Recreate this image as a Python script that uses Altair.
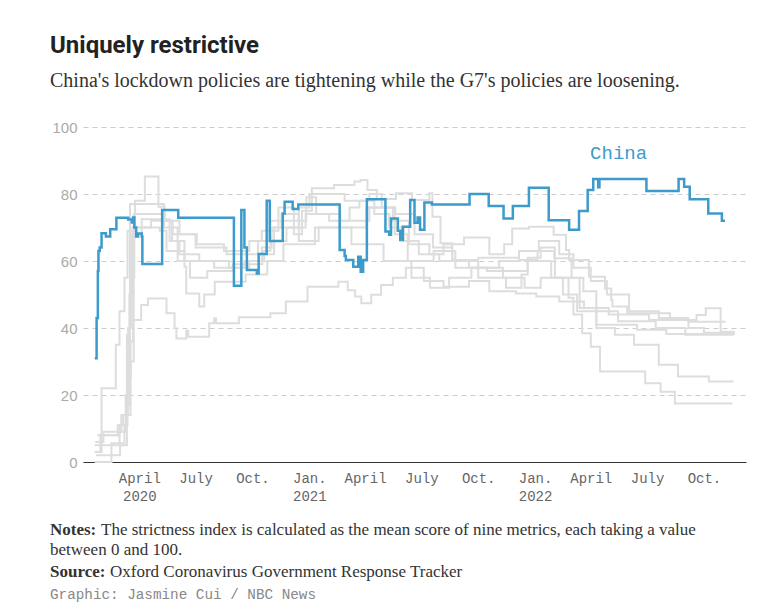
import altair as alt
import pandas as pd

# ---------------- data ----------------
china_dates = ["2020-01-20","2020-01-23","2020-01-25","2020-01-26","2020-01-28","2020-01-31","2020-02-07",
    "2020-02-14","2020-02-24","2020-03-14","2020-03-20","2020-03-22","2020-03-24","2020-03-27","2020-03-30",
    "2020-04-05","2020-04-06","2020-05-08","2020-06-03","2020-09-01","2020-09-13","2020-09-18","2020-09-22",
    "2020-10-08","2020-10-11","2020-10-24","2020-10-29","2020-11-19","2020-11-22","2020-12-05","2020-12-14",
    "2021-02-19","2021-02-27","2021-03-01","2021-03-13","2021-03-21","2021-03-25","2021-03-29","2021-04-04",
    "2021-05-04","2021-05-10","2021-05-13","2021-05-24","2021-05-28","2021-06-01","2021-06-13","2021-06-20",
    "2021-06-25","2021-06-29","2021-07-06","2021-07-18","2021-09-17","2021-10-18","2021-11-11","2021-11-26",
    "2021-12-22","2022-01-23","2022-02-25","2022-03-13","2022-03-27","2022-04-05","2022-04-13","2022-04-15",
    "2022-06-30","2022-08-21","2022-08-30","2022-09-08","2022-10-08","2022-10-30","2022-11-04"]
china_values = [31,43,57,63,64,68.3,67.3,
    69.5,72.9,72.4,71.5,73,70,67.3,68.2,
    67.3,59.1,75.2,72.9,52.6,75.2,64,57.3,
    56.3,62.1,78,66,74.2,77.7,75.5,76.9,
    63.3,61.5,60.3,58.3,61.3,56.8,60.3,78.4,
    68.8,67.8,72.7,69,66.3,70.2,78.2,71.4,
    73,69.3,77.5,76.9,80,76.4,72.7,76.4,
    81.9,72.2,69.3,74.9,81.2,84.5,82,84.5,
    80.9,84.5,82.2,78.4,74.2,72,72]

uk_dates = ["2020-01-20","2020-02-16","2020-03-08","2020-03-13","2020-03-18","2020-03-23","2020-05-12",
    "2020-06-05","2020-07-03","2020-08-16","2020-09-26","2020-10-16","2020-11-12","2020-12-07","2020-12-20",
    "2021-01-05","2021-02-10","2021-03-15","2021-03-25","2021-04-05","2021-04-20","2021-05-21","2021-06-16",
    "2021-07-14","2021-07-19","2021-08-01","2021-08-20","2021-10-01","2021-11-15","2021-12-10","2021-12-20",
    "2022-01-27","2022-02-24","2022-03-04","2022-03-18","2022-04-01","2022-04-16","2022-06-28","2022-07-23",
    "2022-08-15","2022-11-16"]
uk_values = [0,5.6,11,14,30,74,72,
    68,65,63,66,69,76,68,75,
    81.7,82.7,83.7,84.2,81.2,78.5,80.2,78.2,
    80.2,73.2,65.3,60,55,52,56,60,
    55,49,44,38.4,34.4,27,23.5,21,
    17.5,17.5]

de_dates = ["2020-01-20","2020-02-29","2020-03-10","2020-03-16","2020-03-21","2020-05-04","2020-05-15",
    "2020-06-13","2020-07-31","2020-09-18","2020-10-20","2020-11-05","2020-12-15","2021-01-01","2021-02-27",
    "2021-04-08","2021-04-28","2021-05-16","2021-06-11","2021-07-14","2021-08-06","2021-09-08","2021-10-19",
    "2021-11-12","2021-11-25","2021-12-22","2022-01-31","2022-02-20","2022-02-25","2022-03-29","2022-04-24",
    "2022-05-04","2022-05-06","2022-05-30","2022-08-07","2022-09-19","2022-10-04","2022-10-28","2022-11-20"]
de_values = [5,9,20,50,70,69,63,
    60,58,60,62,70,76,80,78,
    80,76,72,65,62,65,67,62,
    65,69.7,70.2,67.8,63.3,60.3,55.3,51.8,
    48.4,46.4,44.4,42.4,43.9,45.9,38.9,38.9]

it_dates = ["2020-01-20","2020-01-31","2020-02-23","2020-02-29","2020-03-08","2020-03-13","2020-03-25",
    "2020-04-10","2020-05-02","2020-05-12","2020-05-24","2020-06-05","2020-07-07","2020-08-24","2020-09-26",
    "2020-10-16","2020-11-01","2020-11-17","2020-12-15","2020-12-27","2021-01-12","2021-02-02","2021-03-07",
    "2021-03-23","2021-04-16","2021-05-10","2021-06-03","2021-06-27","2021-07-30","2021-09-16","2021-11-04",
    "2021-12-06","2022-01-07","2022-02-09","2022-03-04","2022-04-01","2022-04-27","2022-06-02","2022-07-20",
    "2022-09-06","2022-10-01","2022-11-20"]
it_values = [3,22,35,45,55,69,78,
    85.2,76.2,72,66,62,60,58,60,
    64,70,74,72,79,74,72,76,
    78,74,70,66,62,60,58,60,
    63,66,62,58,54,50,45,43,
    40,38.6,38.6]

fr_dates = ["2020-01-24","2020-02-29","2020-03-12","2020-03-17","2020-05-11","2020-06-02","2020-06-22",
    "2020-07-20","2020-08-30","2020-10-17","2020-10-30","2020-12-15","2021-01-16","2021-04-03","2021-05-19",
    "2021-06-09","2021-07-21","2021-08-25","2021-10-15","2021-12-20","2022-01-10","2022-02-02","2022-03-14",
    "2022-04-10","2022-06-15","2022-08-01","2022-11-20"]
fr_values = [8,11,38,77,70,60,55,
    57,59,63,72,66,70,76,68,
    60,63,58,57,61,64,55,46,
    41,39.5,38.2,38.2]

us_dates = ["2020-01-21","2020-02-03","2020-03-03","2020-03-14","2020-03-20","2020-04-05","2020-05-20",
    "2020-06-13","2020-06-16","2020-07-07","2020-07-15","2020-08-01","2020-09-20","2020-10-25","2020-11-20",
    "2021-01-10","2021-03-10","2021-05-01","2021-06-15","2021-07-15","2021-08-15","2021-09-20","2021-11-10",
    "2021-12-15","2022-01-10","2022-02-15","2022-03-10","2022-04-10","2022-05-10","2022-06-10","2022-07-20",
    "2022-08-20","2022-10-09","2022-11-18"]
us_values = [6,9,14,40,68,72.5,66,
    58.3,50.3,46.4,50,53.8,56,60,65,
    70,65,60,55,52,55,58,55,
    52,55,50,45,40,38,35,29,
    25.5,24,24]

ca_dates = ["2020-01-22","2020-03-01","2020-03-12","2020-03-17","2020-03-24","2020-04-20","2020-05-25",
    "2020-07-01","2020-08-20","2020-10-10","2020-11-25","2020-12-26","2021-02-20","2021-04-08","2021-05-20",
    "2021-06-20","2021-07-20","2021-08-20","2021-10-01","2021-12-06","2022-01-05","2022-02-01","2022-03-01",
    "2022-03-20","2022-04-10","2022-05-15","2022-07-15","2022-09-01","2022-11-18"]
ca_values = [2,5,17,55,70,72,68,
    64,62,66,70,74,72,76,74,
    68,64,60.3,61,60.3,63,60.8,55,
    51,45,42,40,38,37.9]

jp_dates = ["2020-01-20","2020-01-29","2020-02-26","2020-03-06","2020-03-13","2020-03-18","2020-03-22",
    "2020-04-04","2020-04-15","2020-05-15","2020-05-28","2020-05-31","2020-06-16","2020-06-19","2020-07-23",
    "2020-07-31","2020-08-03","2020-09-09","2020-10-30","2020-11-24","2020-12-29","2021-02-17","2021-03-04",
    "2021-03-16","2021-03-26","2021-04-11","2021-04-27","2021-05-16","2021-06-06","2021-07-05","2021-08-06",
    "2021-09-16","2021-10-19","2021-12-01","2022-01-03","2022-02-09","2022-03-21","2022-04-30","2022-07-04",
    "2022-09-06","2022-11-05"]
jp_values = [3,8,11,14,25,36,42.4,
    46.9,48.8,44.4,39.9,36.9,39.2,37.4,41.4,
    42.9,41.4,43.2,44.4,47.9,52.3,53.8,51.3,
    49.4,47.4,49.9,52.8,55,58,54,52.3,
    54,51,50.3,49.4,47.9,46,44,42.4,
    41.9,41.9]

gray_series = {
    "United Kingdom": (uk_dates, uk_values),
    "Germany": (de_dates, de_values),
    "Italy": (it_dates, it_values),
    "France": (fr_dates, fr_values),
    "United States": (us_dates, us_values),
    "Canada": (ca_dates, ca_values),
    "Japan": (jp_dates, jp_values),
}

tick_months = [(2020, 4), (2020, 7), (2020, 10), (2021, 1), (2021, 4), (2021, 7), (2021, 10),
               (2022, 1), (2022, 4), (2022, 7), (2022, 10)]
y_ticks = [0, 20, 40, 60, 80, 100]

title_text = "Uniquely restrictive"
subtitle_text = "China's lockdown policies are tightening while the G7's policies are loosening."
notes_label = "Notes:"
notes_line1 = "The strictness index is calculated as the mean score of nine metrics, each taking a value"
notes_line2 = "between 0 and 100."
source_label = "Source:"
source_text = "Oxford Coronavirus Government Response Tracker"
credit_text = "Graphic: Jasmine Cui / NBC News"

china_label = pd.DataFrame({"label": ["China"], "date": ["2022-05-16"], "value": [92.2]})

# ---------------- build tables ----------------
gray_rows = []
for name, (ds, vs) in gray_series.items():
    for d, v in zip(ds, vs):
        gray_rows.append({"country": name, "date": d, "value": v})
gray_df = pd.DataFrame(gray_rows)
china_df = pd.DataFrame({"country": "China", "date": china_dates, "value": china_values})

W, H = 663, 335
BLUE = "#3d9bcb"
GRAY = "#dddddd"
SERIF = "Liberation Serif, DejaVu Serif, serif"
MONO = "Liberation Mono, DejaVu Sans Mono, monospace"
SANS = "Liberation Sans, Roboto, sans-serif"
TITLE_FONT = "Liberation Sans Narrow, Roboto, sans-serif"

x_scale = alt.Scale(type="utc", domain=[alt.DateTime(year=2020, month=1, date=1, utc=True),
                                        alt.DateTime(year=2022, month=12, date=8, utc=True)])
y_scale = alt.Scale(domain=[0, 100], nice=False)

label_expr = ("utcmonth(datum.value)==0 ? ['Jan.', '' + utcyear(datum.value)] : "
              "utcmonth(datum.value)==3 ? (utcyear(datum.value)==2020 ? ['April','2020'] : 'April') : "
              "utcmonth(datum.value)==6 ? 'July' : 'Oct.'")

x_axis = alt.Axis(values=[alt.DateTime(year=y, month=m, date=1, utc=True) for y, m in tick_months],
                  labelExpr=label_expr, title=None, ticks=False, grid=False,
                  domainColor="#333333", domainWidth=1.2, labelFont=MONO, labelFontSize=14,
                  labelColor="#666666", labelPadding=9, labelLineHeight=18, labelFlush=False,
                  labelOverlap=False)
y_axis = alt.Axis(values=y_ticks, title=None, ticks=False, domain=False, grid=True,
                  gridDash=[5, 4], gridColor="#cccccc", gridWidth=1, labelFont=SANS,
                  labelFontSize=15, labelColor="#aaaaaa", labelPadding=6)

gray = alt.Chart(gray_df).mark_line(interpolate="step-after", strokeWidth=2, color=GRAY).encode(
    x=alt.X("date:T", scale=x_scale, axis=x_axis),
    y=alt.Y("value:Q", scale=y_scale, axis=y_axis),
    detail="country:N",
)
china = alt.Chart(china_df).mark_line(interpolate="step-after", strokeWidth=2.5, color=BLUE).encode(
    x=alt.X("date:T", scale=x_scale, axis=x_axis),
    y=alt.Y("value:Q", scale=y_scale, axis=y_axis),
)
china_txt = alt.Chart(china_label).mark_text(font=MONO, fontSize=19, color=BLUE, align="center",
                                             baseline="middle").encode(
    x=alt.X("date:T", scale=x_scale), y=alt.Y("value:Q", scale=y_scale), text="label:N")


def txt(s, x, y, font, size, color="#222222", weight="normal"):
    return alt.Chart(pd.DataFrame({"t": [s]})).mark_text(
        font=font, fontSize=size, color=color, fontWeight=weight, align="left", baseline="alphabetic"
    ).encode(x=alt.value(x), y=alt.value(y), text="t:N")


texts = [
    txt(title_text, -33, -74, TITLE_FONT, 24, "#222222", "bold"),
    txt(subtitle_text, -33, -40, SERIF, 20, "#333333"),
    txt(notes_label, -33, 408, SERIF, 17, "#333333", "bold"),
    txt(notes_line1, 18, 408, SERIF, 17, "#333333"),
    txt(notes_line2, -33, 428, SERIF, 17, "#333333"),
    txt(source_label, -33, 450, SERIF, 17, "#333333", "bold"),
    txt(source_text, 27, 450, SERIF, 17, "#333333"),
    txt(credit_text, -33, 472, MONO, 14.3, "#888888"),
]

chart = alt.layer(gray, china, china_txt, *texts).properties(
    width=W, height=H,
    autosize=alt.AutoSizeParams(type="none"),
    padding={"left": 75, "top": 119, "right": 20, "bottom": 140},
    background="white",
).configure_view(stroke=None)

chart.save("out.html", embed_options={"renderer": "svg", "actions": False})
